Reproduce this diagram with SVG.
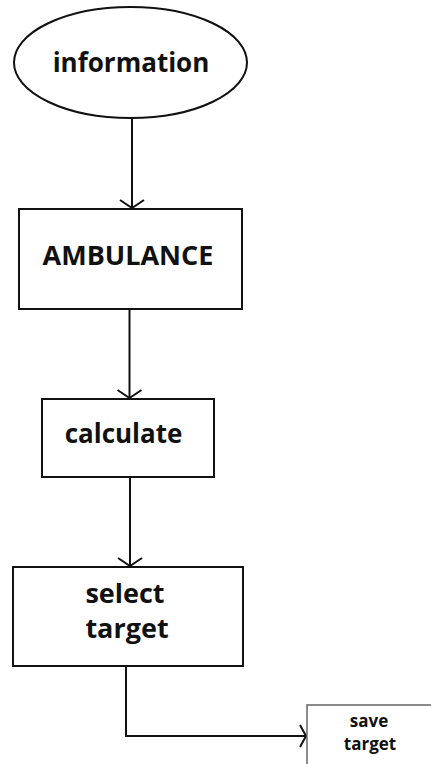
<svg xmlns="http://www.w3.org/2000/svg" width="431" height="764" viewBox="0 0 431 764">
<defs>
<style>
.shape{fill:#fff;stroke:#111;stroke-width:2}
.edge{fill:none;stroke:#111;stroke-width:2}
.lbl{font-family:"Open Sans","Liberation Sans",sans-serif;font-weight:700;fill:#111;text-anchor:middle}
</style>
<marker id="arr" viewBox="0 0 10 26" refX="9" refY="13" markerWidth="10" markerHeight="26" markerUnits="userSpaceOnUse" orient="auto">
<path d="M1,1 L9,13 L1,25" fill="none" stroke="#111" stroke-width="2"/>
</marker>
<marker id="arr2" viewBox="0 0 8 24" refX="7" refY="12" markerWidth="8" markerHeight="24" markerUnits="userSpaceOnUse" orient="auto">
<path d="M1,1 L7,12 L1,23" fill="none" stroke="#111" stroke-width="2"/>
</marker>
</defs>
<rect width="431" height="764" fill="#fff"/>
<g id="connectors">
<path class="edge" d="M132,118 L132,208" marker-end="url(#arr)"/>
<path class="edge" d="M129.5,309 L129.5,398" marker-end="url(#arr)"/>
<path class="edge" d="M130,477 L130,566" marker-end="url(#arr)"/>
<path class="edge" d="M126,666 L126,736 L306,736" marker-end="url(#arr2)"/>
</g>
<g id="information">
<ellipse class="shape" cx="130.5" cy="62.5" rx="116.5" ry="55.5"/>
<text class="lbl" x="131" y="72" font-size="26">information</text>
</g>
<g id="ambulance">
<rect class="shape" x="19" y="209" width="223" height="100"/>
<text class="lbl" x="128" y="265" font-size="27">AMBULANCE</text>
</g>
<g id="calculate">
<rect class="shape" x="42" y="399" width="172" height="78"/>
<text class="lbl" x="123.5" y="443" font-size="26">calculate</text>
</g>
<g id="select-target">
<rect class="shape" x="13" y="567" width="230" height="99"/>
<text class="lbl" x="125" y="603" font-size="27">select</text>
<text class="lbl" x="127" y="638" font-size="27">target</text>
</g>
<g id="save-target">
<rect x="307" y="705" width="130" height="80" fill="#fff" stroke="#666" stroke-width="1.5"/>
<text class="lbl" x="369" y="727" font-size="17">save</text>
<text class="lbl" x="370" y="750" font-size="17">target</text>
</g>
</svg>
